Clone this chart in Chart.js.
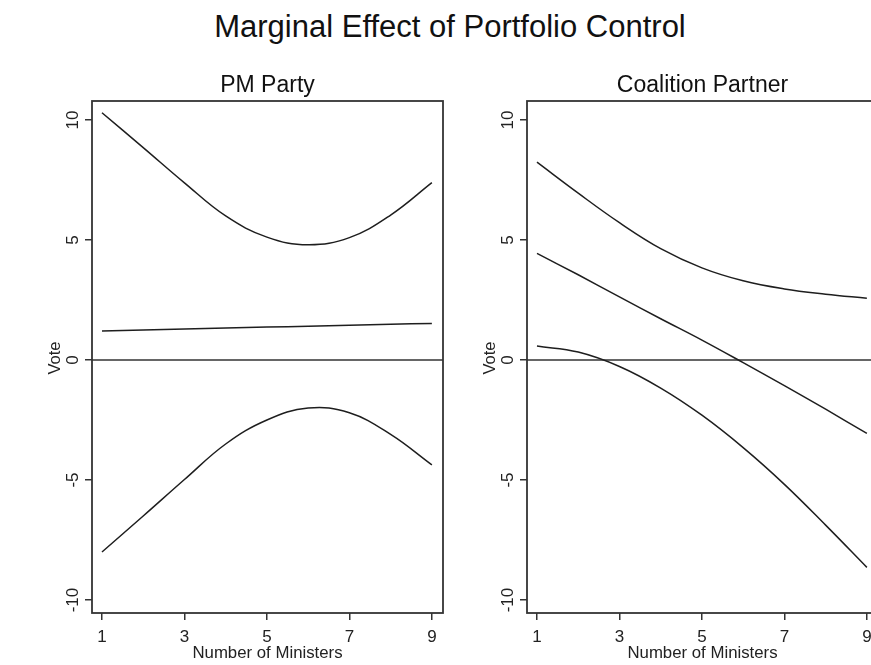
<!DOCTYPE html>
<html>
<head>
<meta charset="utf-8">
<script src="https://cdn.jsdelivr.net/npm/chart.js@4.4.0/dist/chart.umd.min.js"></script>
<style>
  html, body { margin: 0; padding: 0; background: #fff; }
  body { width: 871px; height: 665px; overflow: hidden; position: relative; font-family: "Liberation Sans", Arial, sans-serif; }
  #title { position: absolute; left: 0; width: 900px; top: 9px; text-align: center; font-size: 31px; color: #111; }
  canvas { position: absolute; top: 0; }
  #pm { left: 0; }
  #cp { left: 435px; }
</style>
</head>
<body>
<div id="title">Marginal Effect of Portfolio Control</div>
<canvas id="pm" width="446" height="665"></canvas>
<canvas id="cp" width="446" height="665"></canvas>
<script>
// number of ministers
const ministers = [1, 2, 3, 4, 5, 6, 7, 8, 9];
const xTicks = [1, 3, 5, 7, 9];
const yTicks = [-10, -5, 0, 5, 10];

// PM party: estimate and 95% bounds
const pmUpper = [10.30, 8.85, 7.38, 6.00, 5.12, 4.80, 5.10, 6.04, 7.39];
const pmEffect = [1.21, 1.25, 1.29, 1.33, 1.37, 1.41, 1.45, 1.49, 1.52];
const pmLower = [-8.00, -6.50, -4.98, -3.50, -2.50, -2.00, -2.20, -3.10, -4.37];

// coalition partner: estimate and 95% bounds
const cpUpper = [8.24, 6.95, 5.72, 4.64, 3.84, 3.30, 2.96, 2.74, 2.57];
const cpEffect = [4.44, 3.55, 2.63, 1.72, 0.83, -0.11, -1.07, -2.05, -3.06];
const cpLower = [0.58, 0.33, -0.27, -1.17, -2.30, -3.65, -5.18, -6.88, -8.64];

const INK = '#1e1e1e';
const FONT = '"Liberation Sans", Arial, sans-serif';

function series(vals) {
  return {
    data: ministers.map((m, i) => ({ x: m, y: vals[i] })),
    borderColor: INK,
    borderWidth: 1.5,
    pointRadius: 0,
    tension: 0.4,
    fill: false
  };
}

// box, zero line, rotated y labels and panel title
const panelDecor = {
  id: 'panelDecor',
  beforeDatasetsDraw(chart) {
    const { ctx, chartArea: a, scales: { y } } = chart;
    const y0 = y.getPixelForValue(0);
    ctx.save();
    ctx.strokeStyle = '#333';
    ctx.lineWidth = 1.5;
    ctx.beginPath();
    ctx.moveTo(a.left, y0);
    ctx.lineTo(a.right, y0);
    ctx.stroke();
    ctx.restore();
  },
  afterDraw(chart, args, opts) {
    const { ctx, chartArea: a, scales: { y } } = chart;
    ctx.save();
    ctx.strokeStyle = '#333';
    ctx.lineWidth = 1.8;
    ctx.strokeRect(a.left, a.top, a.right - a.left, a.bottom - a.top);

    ctx.fillStyle = '#222';
    ctx.textAlign = 'center';
    ctx.textBaseline = 'alphabetic';
    ctx.font = '17px ' + FONT;
    yTicks.forEach(v => {
      ctx.save();
      ctx.translate(78, y.getPixelForValue(v));
      ctx.rotate(-Math.PI / 2);
      ctx.fillText(String(v), 0, 0);
      ctx.restore();
    });

    ctx.font = '16.5px ' + FONT;
    ctx.save();
    ctx.translate(59.5, y.getPixelForValue(0) - 2);
    ctx.rotate(-Math.PI / 2);
    ctx.fillText('Vote', 0, 0);
    ctx.restore();

    ctx.font = '23px ' + FONT;
    ctx.fillStyle = '#111';
    ctx.fillText(opts.title, (a.left + a.right) / 2, 92);
    ctx.restore();
  }
};

function makePanel(id, title, upper, effect, lower) {
  return new Chart(document.getElementById(id), {
    type: 'line',
    data: { datasets: [series(upper), series(effect), series(lower)] },
    options: {
      responsive: false,
      animation: false,
      devicePixelRatio: 1,
      layout: { padding: { top: 101, right: 3, left: 0, bottom: 0 } },
      plugins: {
        legend: { display: false },
        tooltip: { enabled: false },
        panelDecor: { title: title }
      },
      scales: {
        x: {
          type: 'linear',
          min: 0.758,
          max: 9.27,
          afterBuildTicks: s => { s.ticks = xTicks.map(v => ({ value: v })); },
          afterFit: s => { s.height = 52; },
          border: { display: false },
          grid: { display: true, drawOnChartArea: false, drawTicks: true, tickLength: 7, color: '#333', lineWidth: 1.5 },
          ticks: { font: { size: 17, family: FONT }, color: '#222', padding: 7, maxRotation: 0 },
          title: { display: true, text: 'Number of Ministers', font: { size: 16.8, family: FONT }, color: '#222', padding: { top: 0, bottom: 2 } }
        },
        y: {
          type: 'linear',
          min: -10.54,
          max: 10.79,
          afterBuildTicks: s => { s.ticks = yTicks.map(v => ({ value: v })); },
          afterFit: s => { s.width = 92; },
          border: { display: false },
          grid: { display: true, drawOnChartArea: false, drawTicks: true, tickLength: 7, color: '#333', lineWidth: 1.5 },
          ticks: { display: false }
        }
      }
    },
    plugins: [panelDecor]
  });
}

makePanel('pm', 'PM Party', pmUpper, pmEffect, pmLower);
makePanel('cp', 'Coalition Partner', cpUpper, cpEffect, cpLower);
</script>
</body>
</html>
